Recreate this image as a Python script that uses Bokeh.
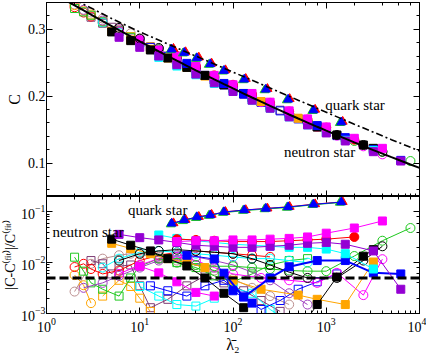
from bokeh.plotting import figure
from bokeh.layouts import column
from bokeh.models import (Range1d, LogAxis, LinearAxis, Span, Label,
                          CustomJSTickFormatter, LogTicker, SingleIntervalTicker)
from bokeh.embed import file_html
from bokeh.resources import INLINE

SERIF = "Liberation Serif"

# ---------------- data ----------------
# fits (top panel)
fit_ns_lam = [1.7, 2, 2.5, 3, 4, 5, 6, 8, 10, 13, 16, 20, 25, 32, 40, 50, 63, 80, 100, 130, 160,
              200, 250, 320, 400, 500, 630, 800, 1000, 1300, 1600, 2000, 2500, 3200, 4000, 5000,
              6300, 8000, 10000]
fit_ns_c = [0.3414, 0.3357, 0.3281, 0.3219, 0.3121, 0.3047, 0.2986, 0.2892, 0.2820, 0.2736,
            0.2670, 0.2600, 0.2530, 0.2454, 0.2386, 0.2319, 0.2250, 0.2180, 0.2115, 0.2039,
            0.1980, 0.1917, 0.1855, 0.1787, 0.1726, 0.1666, 0.1605, 0.1542, 0.1484, 0.1417,
            0.1365, 0.1309, 0.1254, 0.1194, 0.1141, 0.1088, 0.1034, 0.0979, 0.0928]
fit_qs_lam = [2.0, 2.3, 5, 10, 20, 50, 100, 200, 500, 1000, 2000, 5000, 10000]
fit_qs_c = [0.344, 0.340, 0.316, 0.296, 0.278, 0.254, 0.236, 0.218, 0.194, 0.176, 0.158, 0.135, 0.118]
err_threshold = 0.005

# quark stars
qs_blue_lam = [22, 30, 41, 57, 80, 132, 225, 390, 730, 1450]
qs_blue_c = [0.270, 0.265, 0.257, 0.248, 0.238, 0.225, 0.210, 0.195, 0.179, 0.161]
qs_blue_err = [0.059, 0.069, 0.079, 0.086, 0.099, 0.108, 0.116, 0.124, 0.140, 0.155]
qs_red_lam = [23, 31, 43, 59, 83, 137, 234, 405, 760, 1500]
qs_red_c = [0.271, 0.266, 0.258, 0.249, 0.239, 0.226, 0.211, 0.196, 0.180, 0.162]
qs_red_err = [0.060, 0.070, 0.080, 0.088, 0.100, 0.109, 0.117, 0.126, 0.142, 0.157]
qs_green_lam = [21.5, 29, 40, 55, 78, 128, 218, 378, 710, 1400]
qs_green_c = [0.269, 0.264, 0.256, 0.247, 0.237, 0.224, 0.209, 0.194, 0.178, 0.160]
qs_green_err = [0.057, 0.066, 0.076, 0.084, 0.096, 0.105, 0.113, 0.121, 0.137, 0.152]

# neutron stars
ns01_lam = [6, 10, 16, 25, 40, 63, 100, 160, 250, 400, 630, 1000, 1600, 3200, 6300]
ns01_c = [0.288, 0.273, 0.260, 0.247, 0.233, 0.220, 0.207, 0.194, 0.182, 0.169, 0.157, 0.145, 0.133, 0.117, 0.103]
ns01_err = [0.036, 0.031, 0.028, 0.025, 0.022, 0.021, 0.020, 0.020, 0.021, 0.022, 0.024, 0.025, 0.023, 0.017, 0.003]

ns02_lam = [25, 40, 63, 100, 160, 250, 400, 630, 1000, 2000, 4000]
ns02_c = [0.260, 0.245, 0.231, 0.217, 0.204, 0.191, 0.178, 0.166, 0.154, 0.137, 0.122]
ns02_err = [0.026, 0.027, 0.027, 0.028, 0.028, 0.029, 0.030, 0.032, 0.038, 0.048, 0.066]

ns03_lam = [25, 40, 63, 100, 160, 250, 400, 630, 1000, 2000]
ns03_c = [0.260, 0.245, 0.231, 0.217, 0.203, 0.190, 0.177, 0.165, 0.153, 0.135]
ns03_err = [0.029, 0.028, 0.027, 0.026, 0.026, 0.026, 0.027, 0.028, 0.029, 0.032]

ns04_lam = [16, 25, 40, 63, 100, 160, 250, 400, 630, 1000, 1600, 3200]
ns04_c = [0.258, 0.245, 0.232, 0.219, 0.207, 0.194, 0.182, 0.169, 0.157, 0.146, 0.134, 0.119]
ns04_err = [0.035, 0.030, 0.027, 0.025, 0.023, 0.022, 0.021, 0.020, 0.020, 0.0185, 0.015, 0.0075]

ns05_lam = [80, 130, 250, 400, 800, 1600, 3200, 6300]
ns05_c = [0.219, 0.204, 0.186, 0.174, 0.156, 0.138, 0.120, 0.104]
ns05_err = [0.0062, 0.0021, 0.005, 0.0083, 0.011, 0.011, 0.0063, 0.006]

ns06_lam = [32, 63, 100, 160]
ns06_c = [0.249, 0.228, 0.212, 0.198]
ns06_err = [0.014, 0.0118, 0.0028, 0.0016]

ns07_lam = [6, 10, 16, 25, 40, 63, 100, 160, 250, 400, 630, 1300, 2500, 4000]
ns07_c = [0.302, 0.286, 0.272, 0.258, 0.243, 0.229, 0.215, 0.200, 0.187, 0.174, 0.161, 0.142, 0.127, 0.117]
ns07_err = [0.011, 0.015, 0.017, 0.018, 0.017, 0.016, 0.015, 0.012, 0.009, 0.0065, 0.005, 0.005, 0.011, 0.021]

ns08_lam = [5, 8, 13, 20, 32, 50, 80, 130]
ns08_c = [0.296, 0.283, 0.269, 0.257, 0.243, 0.231, 0.217, 0.204]
ns08_err = [0.029, 0.022, 0.017, 0.012, 0.0086, 0.005, 0.0025, 0.0013]

ns09_lam = [630, 800, 1300, 2500, 3200]
ns09_c = [0.161, 0.154, 0.142, 0.127, 0.122]
ns09_err = [0.0008, 0.0015, 0.0052, 0.0134, 0.018]

ns10_lam = [5, 8, 13, 20, 32, 50]
ns10_c = [0.297, 0.284, 0.270, 0.257, 0.243, 0.230]
ns10_err = [0.024, 0.019, 0.015, 0.012, 0.010, 0.008]

ns11_lam = [100, 200, 500, 800, 1600, 3200]
ns11_c = [0.212, 0.192, 0.167, 0.154, 0.137, 0.121]
ns11_err = [0.0045, 0.003, 0.0023, 0.0019, 0.0015, 0.0103]

ns12_lam = [16, 25, 40, 63, 100, 160, 250, 400, 630, 1000, 2000, 4000, 8000]
ns12_c = [0.270, 0.256, 0.241, 0.227, 0.213, 0.200, 0.187, 0.174, 0.162, 0.149, 0.133, 0.117, 0.103]
ns12_err = [0.012, 0.010, 0.009, 0.0085, 0.0085, 0.008, 0.0075, 0.007, 0.0068, 0.0068, 0.0135, 0.027, 0.048]

ns13_lam = [6, 10, 16, 25, 40, 63, 100, 200, 400, 800, 1300, 2500, 4000]
ns13_c = [0.297, 0.279, 0.264, 0.250, 0.236, 0.223, 0.210, 0.191, 0.172, 0.154, 0.141, 0.125, 0.113]
ns13_err = [0.006, 0.009, 0.012, 0.013, 0.011, 0.008, 0.006, 0.005, 0.0045, 0.004, 0.0063, 0.0023, 0.0117]

ns14_lam = [2.5, 4, 6, 10, 16, 25, 40, 63, 100, 160, 250, 400, 630]
ns14_c = [0.329, 0.313, 0.300, 0.284, 0.270, 0.257, 0.242, 0.227, 0.213, 0.199, 0.186, 0.173, 0.161]
ns14_err = [0.0032, 0.004, 0.0055, 0.008, 0.011, 0.014, 0.013, 0.011, 0.009, 0.0065, 0.0045, 0.0025, 0.0015]

ns15_lam = [2, 2.5, 3, 4, 6, 10, 16, 25, 40, 63, 100, 160, 250]
ns15_c = [0.333, 0.325, 0.319, 0.310, 0.297, 0.279, 0.263, 0.249, 0.235, 0.221, 0.208, 0.195, 0.183]
ns15_err = [0.0082, 0.0095, 0.0075, 0.006, 0.007, 0.011, 0.014, 0.016, 0.017, 0.016, 0.015, 0.014, 0.013]

ns16_lam = [2, 2.5, 3, 4, 6, 8, 10, 16, 25, 40, 63, 100, 160, 250, 400, 630]
ns16_c = [0.331, 0.326, 0.321, 0.311, 0.298, 0.288, 0.280, 0.264, 0.250, 0.237, 0.224, 0.211, 0.197, 0.184, 0.171, 0.159]
ns16_err = [0.0128, 0.0068, 0.0040, 0.0030, 0.0022, 0.0050, 0.0085, 0.012, 0.010, 0.008, 0.0055, 0.0042, 0.0060, 0.0090, 0.011, 0.012]

ns17_lam = [3, 4, 5, 6, 8, 10, 13, 20, 32, 50, 80, 130, 200, 320]
ns17_c = [0.318, 0.309, 0.303, 0.296, 0.287, 0.281, 0.273, 0.260, 0.245, 0.231, 0.217, 0.203, 0.191, 0.179]
ns17_err = [0.011, 0.0095, 0.006, 0.0085, 0.009, 0.0035, 0.0013, 0.0019, 0.0035, 0.0055, 0.004, 0.0028, 0.0018, 0.0011]

ns18_lam = [2, 3, 4, 6, 8, 10, 16, 25, 40, 63, 100, 160, 250, 400]
ns18_c = [0.337, 0.325, 0.316, 0.303, 0.294, 0.286, 0.270, 0.256, 0.241, 0.227, 0.213, 0.199, 0.186, 0.173]
ns18_err = [0.0027, 0.0095, 0.012, 0.014, 0.015, 0.0145, 0.013, 0.011, 0.009, 0.007, 0.0048, 0.0032, 0.0022, 0.0015]

ns19_lam = [4, 6, 10, 16, 25, 40, 63, 100, 160, 250, 400, 630]
ns19_c = [0.310, 0.295, 0.277, 0.262, 0.249, 0.235, 0.222, 0.209, 0.196, 0.183, 0.171, 0.159]
ns19_err = [0.008, 0.012, 0.016, 0.017, 0.016, 0.015, 0.014, 0.013, 0.012, 0.012, 0.011, 0.010]

ns20_lam = [10, 16, 25, 40, 63, 100, 160, 250, 400]
ns20_c = [0.283, 0.268, 0.253, 0.239, 0.225, 0.212, 0.198, 0.186, 0.173]
ns20_err = [0.0034, 0.0022, 0.0015, 0.0014, 0.002, 0.0032, 0.0025, 0.0012, 0.0007]

ns21_lam = [13, 20, 32, 50, 80, 130, 200, 320, 500, 800, 1300]
ns21_c = [0.273, 0.259, 0.245, 0.231, 0.217, 0.203, 0.191, 0.178, 0.166, 0.154, 0.141]
ns21_err = [0.0035, 0.0028, 0.0022, 0.0035, 0.0045, 0.0022, 0.0012, 0.0018, 0.003, 0.0042, 0.006]

ns22_lam = [10, 16, 25, 40, 63]
ns22_c = [0.284, 0.269, 0.254, 0.239, 0.225]
ns22_err = [0.0085, 0.0063, 0.0042, 0.0026, 0.0022]

ns23_lam = [4, 6, 8, 10, 13]
ns23_c = [0.312, 0.299, 0.289, 0.282, 0.274]
ns23_err = [0.0022, 0.0045, 0.0034, 0.002, 0.0011]

ns24_lam = [2, 2.5, 3]
ns24_c = [0.336, 0.328, 0.322]
ns24_err = [0.0057, 0.0036, 0.0016]

# ---------------- styles ----------------
VIOLET = "#9400D3"; MAGENTA = "#FF00FF"; RED = "#FF0000"; CYAN = "#00FFFF"
BLUE = "#0000FF"; BLACK = "#000000"; ORANGE = "#FFA500"; GREEN = "#1EC81E"
MAROON = "#7E3C74"; BROWN = "#BC8F8F"; PURPLE = "#A040C0"

NS = [
    (ns18_lam, ns18_c, ns18_err, BROWN, "circle", False, 1),
    (ns17_lam, ns17_c, ns17_err, MAROON, "square", False, 1),
    (ns24_lam, ns24_c, ns24_err, ORANGE, "circle", False, 1),
    (ns23_lam, ns23_c, ns23_err, ORANGE, "square", False, 1),
    (ns15_lam, ns15_c, ns15_err, RED, "circle", False, 1),
    (ns16_lam, ns16_c, ns16_err, GREEN, "square", False, 1),
    (ns14_lam, ns14_c, ns14_err, PURPLE, "circle", False, 1),
    (ns19_lam, ns19_c, ns19_err, CYAN, "circle", False, 1),
    (ns20_lam, ns20_c, ns20_err, CYAN, "square", False, 1),
    (ns21_lam, ns21_c, ns21_err, BLUE, "square", False, 1),
    (ns13_lam, ns13_c, ns13_err, MAGENTA, "circle", False, 1),
    (ns12_lam, ns12_c, ns12_err, GREEN, "circle", False, 1),
    (ns22_lam, ns22_c, ns22_err, MAGENTA, "square", True, 1),
    (ns10_lam, ns10_c, ns10_err, ORANGE, "square", True, 1),
    (ns11_lam, ns11_c, ns11_err, ORANGE, "square", True, 1),
    (ns07_lam, ns07_c, ns07_err, BLACK, "circle", False, 1),
    (ns08_lam, ns08_c, ns08_err, BLACK, "square", True, 1),
    (ns09_lam, ns09_c, ns09_err, BLACK, "square", True, 1),
    (ns06_lam, ns06_c, ns06_err, BLUE, "square", True, 1),
    (ns05_lam, ns05_c, ns05_err, BLUE, "square", True, 2),
    (ns04_lam, ns04_c, ns04_err, CYAN, "square", True, 1),
    (ns03_lam, ns03_c, ns03_err, RED, "circle", True, 1),
    (ns01_lam, ns01_c, ns01_err, VIOLET, "square", True, 1),
    (ns02_lam, ns02_c, ns02_err, MAGENTA, "square", True, 1),
]
QS = [
    (qs_red_lam, qs_red_c, qs_red_err, RED),
    (qs_green_lam, qs_green_c, qs_green_err, GREEN),
    (qs_blue_lam, qs_blue_c, qs_blue_err, BLUE),
]

LEFT, RIGHT, FW = 40, 7, 373
hide = CustomJSTickFormatter(code="return ''")


def style_axis(ax, labels=True):
    ax.major_tick_in = 6
    ax.major_tick_out = 0
    ax.minor_tick_in = 3
    ax.minor_tick_out = 0
    ax.axis_line_color = "black"
    ax.major_tick_line_color = "black"
    ax.minor_tick_line_color = "black"
    ax.major_label_text_font = SERIF
    ax.major_label_text_font_size = "14px"
    ax.major_label_text_color = "black"
    ax.major_label_standoff = 1
    ax.axis_label_text_font = SERIF
    ax.axis_label_text_font_style = "normal"
    ax.axis_label_text_font_size = "14px"
    ax.axis_label_text_color = "black"
    ax.axis_label_standoff = 0
    if not labels:
        ax.formatter = hide
        ax.major_label_text_font_size = "0px"
        ax.major_label_standoff = 0


def sz(mk):
    return {"circle": 9, "square": 8, "triangle": 9}[mk]


# ---------------- top panel ----------------
p1 = figure(x_axis_type="log", x_range=Range1d(1, 1e4), y_range=Range1d(0.05, 0.34),
            frame_width=FW, frame_height=194, output_backend="svg", toolbar_location=None,
            min_border_left=LEFT, min_border_right=RIGHT, min_border_top=2, min_border_bottom=0)
p1.xgrid.visible = False
p1.ygrid.visible = False
p1.outline_line_color = "black"
p1.background_fill_color = "white"
p1.border_fill_color = "white"
p1.yaxis.ticker = SingleIntervalTicker(interval=0.1, num_minor_ticks=5)
p1.yaxis.axis_label = "C"
style_axis(p1.yaxis[0])
p1.yaxis.axis_label_text_font_size = "16px"
p1.yaxis.axis_label_standoff = 2
style_axis(p1.xaxis[0], labels=False)
ax = LogAxis(ticker=LogTicker())
style_axis(ax, labels=False)
p1.add_layout(ax, "above")
ax = LinearAxis(ticker=SingleIntervalTicker(interval=0.1, num_minor_ticks=5))
style_axis(ax, labels=False)
p1.add_layout(ax, "right")

for lam, c, err, col, mk, filled, lw in NS:
    p1.scatter(lam, c, marker=mk, size=sz(mk), line_color=col,
               fill_color=col if filled else None, line_width=1)
for lam, c, err, col in QS:
    p1.scatter(lam, c, marker="triangle", size=9, line_color=col, fill_color=col)

p1.line(fit_ns_lam, fit_ns_c, line_color="black", line_width=2)
p1.line(fit_qs_lam, fit_qs_c, line_color="black", line_width=1.6, line_dash="7 3 2 3")

p1.add_layout(Label(x=977, y=0.1866, text="quark star", text_font=SERIF, text_font_size="15px",
                    text_baseline="middle", text_align="left", text_color="black"))
p1.add_layout(Label(x=352, y=0.1164, text="neutron star", text_font=SERIF, text_font_size="15px",
                    text_baseline="middle", text_align="left", text_color="black"))

# ---------------- bottom panel ----------------
p2 = figure(x_axis_type="log", y_axis_type="log", x_range=p1.x_range, y_range=Range1d(1e-3, 0.2),
            frame_width=FW, frame_height=117, output_backend="svg", toolbar_location=None,
            min_border_left=LEFT, min_border_right=RIGHT, min_border_top=0, min_border_bottom=42)
p2.xgrid.visible = False
p2.ygrid.visible = False
p2.outline_line_color = "black"
p2.background_fill_color = "white"
p2.border_fill_color = "white"
p2.yaxis.axis_label = "|C-C⁽ᶠⁱᵗ⁾|/C⁽ᶠⁱᵗ⁾"
p2.xaxis.axis_label = "λ̄₂"
style_axis(p2.yaxis[0])
style_axis(p2.xaxis[0])
p2.xaxis.axis_label_text_font_size = "16px"
p2.xaxis.axis_label_standoff = 1
p2.xaxis.major_label_standoff = 4
ax = LogAxis(ticker=LogTicker())
style_axis(ax, labels=False)
p2.add_layout(ax, "above")
ax = LogAxis(ticker=LogTicker())
style_axis(ax, labels=False)
p2.add_layout(ax, "right")

for lam, c, err, col, mk, filled, lw in NS:
    p2.line(lam, err, line_color=col, line_width=lw)
    p2.scatter(lam, err, marker=mk, size=sz(mk), line_color=col,
               fill_color=col if filled else None, line_width=1)
for lam, c, err, col in QS:
    p2.line(lam, err, line_color=col, line_width=1)
    p2.scatter(lam, err, marker="triangle", size=9, line_color=col, fill_color=col)

p2.add_layout(Span(location=err_threshold, dimension="width", line_color="black",
                   line_width=3, line_dash="9 4"))
p2.add_layout(Label(x=7.47, y=0.108, text="quark star", text_font=SERIF, text_font_size="15px",
                    text_baseline="middle", text_align="left", text_color="black"))
p2.add_layout(Label(x=1.157, y=0.0405, text="neutron star", text_font=SERIF, text_font_size="15px",
                    text_baseline="middle", text_align="left", text_color="black"))

layout = column(p1, p2, spacing=0)
open("out.html", "w").write(file_html(layout, INLINE))
